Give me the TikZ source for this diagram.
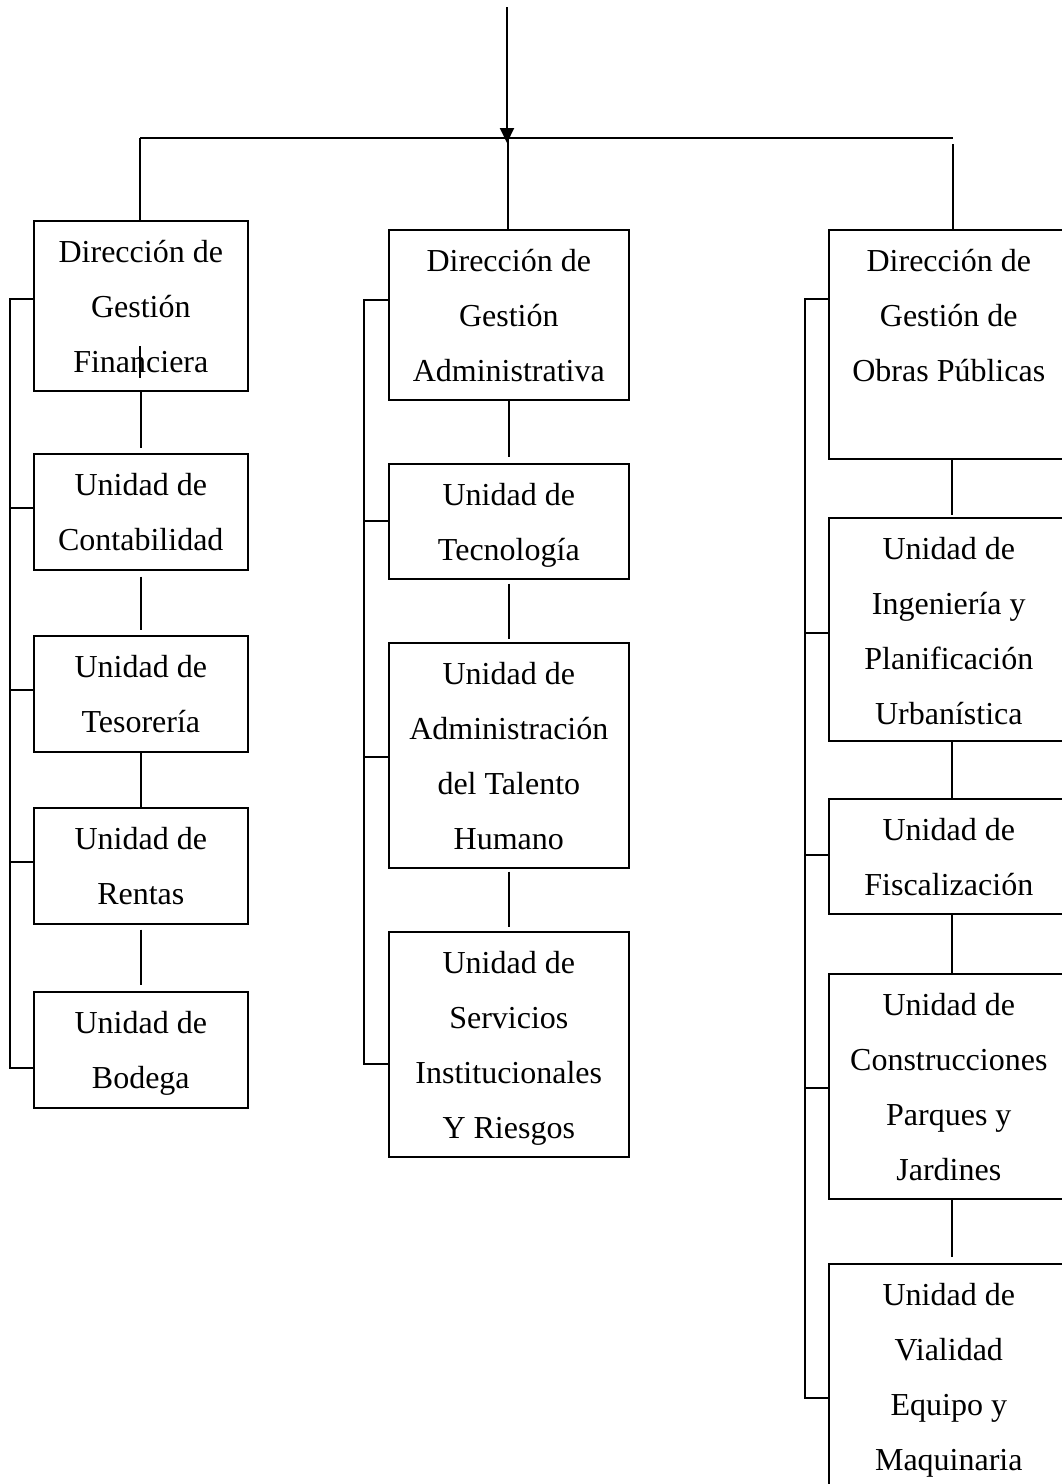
\documentclass[tikz,border=0pt]{standalone}
\usepackage{fontspec}
\setmainfont{Liberation Serif}
\usetikzlibrary{arrows.meta}
\tikzset{
  box/.style={draw, line width=1.6pt, fill=white, anchor=north west, inner sep=0pt},
  txt/.style={align=center, inner sep=0pt, anchor=north, font=\fontsize{32}{55}\selectfont,
              execute at begin node={\rule{0pt}{31pt}}},
  ln/.style={line width=1.6pt}
}
\begin{document}
\begin{tikzpicture}[x=1pt,y=-1pt]
\useasboundingbox (0,0) rectangle (1062,1484);
\clip (0,0) rectangle (1062,1484);

% boxes
\node[box, minimum width=214pt, minimum height=170pt] (f1) at (33,220) {};
\node[box, minimum width=214pt, minimum height=116pt] (f2) at (33,453) {};
\node[box, minimum width=214pt, minimum height=116pt] (f3) at (33,635) {};
\node[box, minimum width=214pt, minimum height=116pt] (f4) at (33,807) {};
\node[box, minimum width=214pt, minimum height=116pt] (f5) at (33,991) {};

\node[box, minimum width=240pt, minimum height=170pt] (m1) at (388,229) {};
\node[box, minimum width=240pt, minimum height=115pt] (m2) at (388,463) {};
\node[box, minimum width=240pt, minimum height=225pt] (m3) at (388,642) {};
\node[box, minimum width=240pt, minimum height=225pt] (m4) at (388,931) {};

\node[box, minimum width=240pt, minimum height=229pt] (r1) at (828,229) {};
\node[box, minimum width=240pt, minimum height=223pt] (r2) at (828,517) {};
\node[box, minimum width=240pt, minimum height=115pt] (r3) at (828,798) {};
\node[box, minimum width=240pt, minimum height=225pt] (r4) at (828,973) {};
\node[box, minimum width=240pt, minimum height=300pt] (r5) at (828,1263) {};

% texts
\node[txt] (tf1) at ([yshift=-20pt]f1.north) {Dirección de\\Gestión\\Financiera};
\node[txt] (tf2) at ([yshift=-20pt]f2.north) {Unidad de\\Contabilidad};
\node[txt] (tf3) at ([yshift=-20pt]f3.north) {Unidad de\\Tesorería};
\node[txt] (tf4) at ([yshift=-20pt]f4.north) {Unidad de\\Rentas};
\node[txt] (tf5) at ([yshift=-20pt]f5.north) {Unidad de\\Bodega};

\node[txt] (tm1) at ([yshift=-20pt]m1.north) {Dirección de\\Gestión\\Administrativa};
\node[txt] (tm2) at ([yshift=-20pt]m2.north) {Unidad de\\Tecnología};
\node[txt] (tm3) at ([yshift=-20pt]m3.north) {Unidad de\\Administración\\del Talento\\Humano};
\node[txt] (tm4) at ([yshift=-20pt]m4.north) {Unidad de\\Servicios\\Institucionales\\Y Riesgos};

\node[txt] (tr1) at ([yshift=-20pt]r1.north) {Dirección de\\Gestión de\\Obras Públicas};
\node[txt] (tr2) at ([yshift=-20pt]r2.north) {Unidad de\\Ingeniería y\\Planificación\\Urbanística};
\node[txt] (tr3) at ([yshift=-20pt]r3.north) {Unidad de\\Fiscalización};
\node[txt] (tr4) at ([yshift=-20pt]r4.north) {Unidad de\\Construcciones\\Parques y\\Jardines};
\node[txt] (tr5) at ([yshift=-20pt]r5.north) {Unidad de\\Vialidad\\Equipo y\\Maquinaria};

% top distribution
\coordinate (top) at (507,7);
\coordinate (tip) at (507,143);
\coordinate (hL) at (140,138);
\coordinate (hM) at (508,138);
\coordinate (hR) at (953,138);
\coordinate (hR2) at (953,144);
\draw[ln] (hL) -- (hR);
\draw[line width=2pt, -{Triangle[length=15pt,width=14pt]}] (top) -- (tip);
\draw[ln] (hL) -- (hL |- f1.north);
\draw[ln] (hM) -- (hM |- m1.north);
\draw[ln] (hR2) -- (hR2 |- r1.north);

% column connectors
\draw[ln, shorten >=5pt] (f1.south) -- (f2.north);
\draw[ln, shorten <=6pt, shorten >=5pt] (f2.south) -- (f3.north);
\draw[ln] (f3.south) -- (f4.north);
\draw[ln, shorten <=5pt, shorten >=6pt] (f4.south) -- (f5.north);

\draw[ln, shorten >=6pt] (m1.south) -- (m2.north);
\draw[ln, shorten <=4pt, shorten >=3pt] (m2.south) -- (m3.north);
\draw[ln, shorten <=3pt, shorten >=4pt] (m3.south) -- (m4.north);

\coordinate (xR) at (952,0);
\draw[ln, shorten >=2pt] (r1.south -| xR) -- (r2.north -| xR);
\draw[ln] (r2.south -| xR) -- (r3.north -| xR);
\draw[ln] (r3.south -| xR) -- (r4.north -| xR);
\draw[ln, shorten >=6pt] (r4.south -| xR) -- (r5.north -| xR);

% stray bar in "Financiera"
\coordinate (fb1) at (140,346);
\coordinate (fb2) at (140,378);
\draw[ln] (fb1) -- (fb2);

% left bracket
\coordinate (tL0) at (10,299);
\coordinate (tL1) at (10,508);
\coordinate (tL2) at (10,690);
\coordinate (tL3) at (10,862);
\coordinate (tL4) at (10,1068);
\draw[ln] (tL0 -| f1.west) -- (tL0) -- (tL4) -- (tL4 -| f5.west);
\draw[ln] (tL1) -- (tL1 -| f2.west);
\draw[ln] (tL2) -- (tL2 -| f3.west);
\draw[ln] (tL3) -- (tL3 -| f4.west);

% middle bracket
\coordinate (tM0) at (364,300);
\coordinate (tM1) at (364,521);
\coordinate (tM2) at (364,757);
\coordinate (tM3) at (364,1064);
\draw[ln] (tM0 -| m1.west) -- (tM0) -- (tM3) -- (tM3 -| m4.west);
\draw[ln] (tM1) -- (tM1 -| m2.west);
\draw[ln] (tM2) -- (tM2 -| m3.west);

% right bracket
\coordinate (tR0) at (805,299);
\coordinate (tR1) at (805,633);
\coordinate (tR2) at (805,855);
\coordinate (tR3) at (805,1088);
\coordinate (tR4) at (805,1398);
\draw[ln] (tR0 -| r1.west) -- (tR0) -- (tR4) -- (tR4 -| r5.west);
\draw[ln] (tR1) -- (tR1 -| r2.west);
\draw[ln] (tR2) -- (tR2 -| r3.west);
\draw[ln] (tR3) -- (tR3 -| r4.west);
\end{tikzpicture}
\end{document}
